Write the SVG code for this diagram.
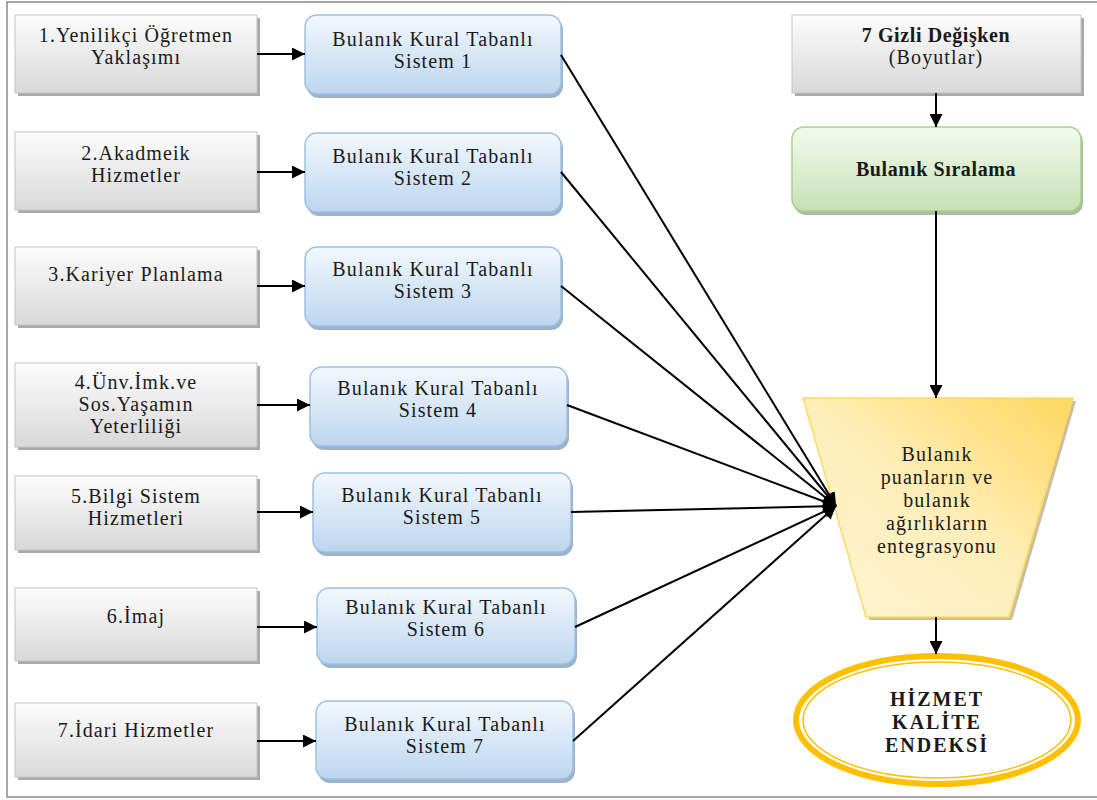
<svg xmlns="http://www.w3.org/2000/svg" width="1097" height="800" viewBox="0 0 1097 800">
  <defs>
    <linearGradient id="gGray" x1="0" y1="0" x2="0" y2="1">
      <stop offset="0" stop-color="#fdfdfd"/>
      <stop offset="1" stop-color="#d8d8d8"/>
    </linearGradient>
    <linearGradient id="gBlue" x1="0" y1="0" x2="0" y2="1">
      <stop offset="0" stop-color="#f3f8fd"/>
      <stop offset="1" stop-color="#bcd6ef"/>
    </linearGradient>
    <linearGradient id="gGreen" x1="0" y1="0" x2="0" y2="1">
      <stop offset="0" stop-color="#f3faee"/>
      <stop offset="1" stop-color="#c6e1b5"/>
    </linearGradient>
    <linearGradient id="gGold" x1="0" y1="1" x2="1" y2="0">
      <stop offset="0" stop-color="#fff5d6"/>
      <stop offset="0.5" stop-color="#ffeeb8"/>
      <stop offset="1" stop-color="#ffd75e"/>
    </linearGradient>
    <marker id="arrowL" viewBox="0 0 10 10" refX="10" refY="5" markerWidth="14" markerHeight="13" markerUnits="userSpaceOnUse" orient="auto">
      <path d="M0,0 L10,5 L0,10 z" fill="#000"/>
    </marker>
  </defs>
  <style>
    text { font-size: 20px; fill: #1a1a1a; text-anchor: middle; letter-spacing: 1.1px; }
    .b { font-weight: bold; letter-spacing: 0.6px; }
    .e { font-weight: bold; letter-spacing: 2px; }
    .gray { fill: url(#gGray); stroke: #c4c4c4; stroke-width: 1; }
    .grayShadow { fill: #a9a9a9; }
    .blue { fill: url(#gBlue); stroke: #9cc1e4; stroke-width: 1.5; }
    .blueShadow { fill: #9fb3c8; }
    .green { fill: url(#gGreen); stroke: #a9d08e; stroke-width: 1.5; }
    .greenShadow { fill: #aebca4; }
    .conn { stroke: #000; stroke-width: 2; fill: none; }
  </style>

  <rect width="1097" height="800" fill="#ffffff"/>
  <!-- outer frame -->
  <rect x="7" y="2" width="1100" height="795" fill="none" stroke="#8a8a8a" stroke-width="1.5"/>

  <g font-family="Liberation Serif, Times New Roman, serif">
  <!-- left column: criteria -->
  <g id="crit1">
    <rect class="grayShadow" x="18" y="18" width="242" height="78"/>
    <rect class="gray" x="15" y="15" width="242" height="78"/>
    <text x="136" y="42">1.Yenilikçi Öğretmen</text>
    <text x="136" y="64">Yaklaşımı</text>
  </g>
  <g id="crit2">
    <rect class="grayShadow" x="18" y="135" width="242" height="78"/>
    <rect class="gray" x="15" y="132" width="242" height="78"/>
    <text x="136" y="160">2.Akadmeik</text>
    <text x="136" y="182">Hizmetler</text>
  </g>
  <g id="crit3">
    <rect class="grayShadow" x="18" y="250" width="242" height="78"/>
    <rect class="gray" x="15" y="247" width="242" height="78"/>
    <text x="136" y="281">3.Kariyer Planlama</text>
  </g>
  <g id="crit4">
    <rect class="grayShadow" x="18" y="366" width="242" height="84"/>
    <rect class="gray" x="15" y="363" width="242" height="84"/>
    <text x="136" y="389">4.Ünv.İmk.ve</text>
    <text x="136" y="411">Sos.Yaşamın</text>
    <text x="136" y="433">Yeterliliği</text>
  </g>
  <g id="crit5">
    <rect class="grayShadow" x="18" y="479" width="242" height="74"/>
    <rect class="gray" x="15" y="476" width="242" height="74"/>
    <text x="136" y="503">5.Bilgi Sistem</text>
    <text x="136" y="525">Hizmetleri</text>
  </g>
  <g id="crit6">
    <rect class="grayShadow" x="18" y="591" width="242" height="73"/>
    <rect class="gray" x="15" y="588" width="242" height="73"/>
    <text x="136" y="623">6.İmaj</text>
  </g>
  <g id="crit7">
    <rect class="grayShadow" x="18" y="706" width="242" height="74"/>
    <rect class="gray" x="15" y="703" width="242" height="74"/>
    <text x="136" y="737">7.İdari Hizmetler</text>
  </g>

  <!-- middle column: fuzzy rule-based systems -->
  <g id="frbs1">
    <rect class="blueShadow" x="307" y="18" width="256" height="80" rx="12"/>
    <rect class="blue" x="305" y="15" width="256" height="79" rx="12"/>
    <text x="433" y="46">Bulanık Kural Tabanlı</text>
    <text x="433" y="68">Sistem 1</text>
  </g>
  <g id="frbs2">
    <rect class="blueShadow" x="307" y="136" width="256" height="80" rx="12"/>
    <rect class="blue" x="305" y="133" width="256" height="79" rx="12"/>
    <text x="433" y="163">Bulanık Kural Tabanlı</text>
    <text x="433" y="185">Sistem 2</text>
  </g>
  <g id="frbs3">
    <rect class="blueShadow" x="307" y="250" width="256" height="80" rx="12"/>
    <rect class="blue" x="305" y="247" width="256" height="79" rx="12"/>
    <text x="433" y="276">Bulanık Kural Tabanlı</text>
    <text x="433" y="298">Sistem 3</text>
  </g>
  <g id="frbs4">
    <rect class="blueShadow" x="312" y="370" width="257" height="80" rx="12"/>
    <rect class="blue" x="310" y="367" width="257" height="79" rx="12"/>
    <text x="438" y="395">Bulanık Kural Tabanlı</text>
    <text x="438" y="417">Sistem 4</text>
  </g>
  <g id="frbs5">
    <rect class="blueShadow" x="315" y="476" width="258" height="80" rx="12"/>
    <rect class="blue" x="313" y="473" width="258" height="79" rx="12"/>
    <text x="442" y="502">Bulanık Kural Tabanlı</text>
    <text x="442" y="524">Sistem 5</text>
  </g>
  <g id="frbs6">
    <rect class="blueShadow" x="319" y="591" width="258" height="77" rx="12"/>
    <rect class="blue" x="317" y="588" width="258" height="76" rx="12"/>
    <text x="446" y="614">Bulanık Kural Tabanlı</text>
    <text x="446" y="636">Sistem 6</text>
  </g>
  <g id="frbs7">
    <rect class="blueShadow" x="318" y="704" width="257" height="79" rx="12"/>
    <rect class="blue" x="316" y="701" width="257" height="78" rx="12"/>
    <text x="445" y="731">Bulanık Kural Tabanlı</text>
    <text x="445" y="753">Sistem 7</text>
  </g>

  <!-- right column -->
  <g id="latent">
    <rect class="grayShadow" x="795" y="18" width="289" height="78"/>
    <rect class="gray" x="792" y="15" width="289" height="78"/>
    <text class="b" x="936" y="42">7 Gizli Değişken</text>
    <text x="936" y="64">(Boyutlar)</text>
  </g>
  <g id="fuzzyRanking">
    <rect class="greenShadow" x="794" y="130" width="289" height="85" rx="12"/>
    <rect class="green" x="792" y="127" width="289" height="84" rx="12"/>
    <text class="b" x="936" y="176">Bulanık Sıralama</text>
  </g>
  <g id="integration">
    <polygon points="806,401 1076,401 1012,620 869,620" fill="#c9bfa0"/>
    <polygon points="803,398 1073,398 1009,617 866,617" fill="url(#gGold)" stroke="#ffd966" stroke-width="1.5"/>
    <text x="937" y="461">Bulanık</text>
    <text x="937" y="484">puanların ve</text>
    <text x="937" y="507">bulanık</text>
    <text x="937" y="530">ağırlıkların</text>
    <text x="937" y="553">entegrasyonu</text>
  </g>
  <g id="qualityIndex">
    <ellipse cx="937" cy="720" rx="141" ry="64" fill="#ffffff" stroke="#ffc000" stroke-width="6"/>
    <ellipse cx="937" cy="720" rx="134" ry="58" fill="none" stroke="#ffc000" stroke-width="1.5"/>
    <text class="e" x="937" y="706">HİZMET</text>
    <text class="e" x="937" y="729">KALİTE</text>
    <text class="e" x="937" y="752">ENDEKSİ</text>
  </g>
  </g>

  <!-- connectors -->
  <g id="connectors">
    <line class="conn" x1="257" y1="54" x2="305" y2="54" marker-end="url(#arrowL)"/>
    <line class="conn" x1="257" y1="172" x2="305" y2="172" marker-end="url(#arrowL)"/>
    <line class="conn" x1="257" y1="286" x2="305" y2="286" marker-end="url(#arrowL)"/>
    <line class="conn" x1="257" y1="405" x2="310" y2="405" marker-end="url(#arrowL)"/>
    <line class="conn" x1="257" y1="512" x2="313" y2="512" marker-end="url(#arrowL)"/>
    <line class="conn" x1="257" y1="627" x2="317" y2="627" marker-end="url(#arrowL)"/>
    <line class="conn" x1="257" y1="741" x2="316" y2="741" marker-end="url(#arrowL)"/>

    <line class="conn" x1="561" y1="55" x2="836" y2="506" marker-end="url(#arrowL)"/>
    <line class="conn" x1="561" y1="172" x2="836" y2="506" marker-end="url(#arrowL)"/>
    <line class="conn" x1="561" y1="286" x2="836" y2="506" marker-end="url(#arrowL)"/>
    <line class="conn" x1="567" y1="405" x2="836" y2="506" marker-end="url(#arrowL)"/>
    <line class="conn" x1="571" y1="512" x2="836" y2="506" marker-end="url(#arrowL)"/>
    <line class="conn" x1="575" y1="627" x2="836" y2="506" marker-end="url(#arrowL)"/>
    <line class="conn" x1="573" y1="741" x2="836" y2="506" marker-end="url(#arrowL)"/>

    <line class="conn" x1="936" y1="93" x2="936" y2="127" marker-end="url(#arrowL)"/>
    <line class="conn" x1="936" y1="211" x2="936" y2="398" marker-end="url(#arrowL)"/>
    <line class="conn" x1="936" y1="617" x2="936" y2="654" marker-end="url(#arrowL)"/>
  </g>
</svg>
